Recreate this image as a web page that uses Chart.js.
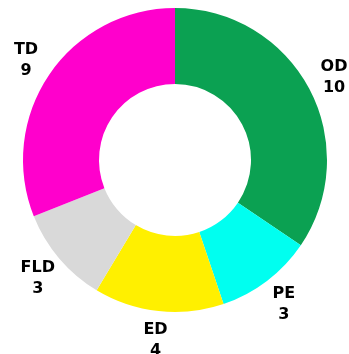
<!DOCTYPE html>
<html>
<head>
<meta charset="utf-8">
<style>
  html, body { margin: 0; padding: 0; background: #fff; }
  canvas { display: block; }
</style>
<script src="https://cdn.jsdelivr.net/npm/chart.js@4/dist/chart.umd.min.js"></script>
</head>
<body>
<canvas id="donut" width="349" height="354"></canvas>
<script>
// Slice names and counts, clockwise from 12 o'clock
const categories = ['OD', 'PE', 'ED', 'FLD', 'TD'];
const counts = [10, 3, 4, 3, 9];
const sliceColors = ['#0ba152', '#00fff0', '#fff000', '#d9d9d9', '#ff00cc'];

// Draws "NAME" over "count" outside each slice, at the slice's mid angle
const outsideLabels = {
    id: 'outsideLabels',
    afterDatasetsDraw(chart) {
        const ctx = chart.ctx;
        const meta = chart.getDatasetMeta(0);
        ctx.save();
        ctx.font = 'bold 16px "DejaVu Sans"';
        ctx.fillStyle = '#000';
        ctx.textAlign = 'center';
        ctx.textBaseline = 'middle';
        meta.data.forEach((arc, i) => {
            const mid = (arc.startAngle + arc.endAngle) / 2;
            const r = arc.outerRadius + 28;
            const x = arc.x + Math.cos(mid) * r;
            const y = arc.y + Math.sin(mid) * r;
            ctx.fillText(categories[i], x, y - 9);
            ctx.fillText(String(counts[i]), x, y + 12);
        });
        ctx.restore();
    }
};

new Chart(document.getElementById('donut'), {
    type: 'doughnut',
    data: {
        labels: categories,
        datasets: [{
            data: counts,
            backgroundColor: sliceColors,
            borderWidth: 0
        }]
    },
    options: {
        responsive: false,
        animation: false,
        cutout: '50%',
        layout: { padding: { top: 8, bottom: 42, left: 23, right: 22 } },
        plugins: {
            legend: { display: false },
            tooltip: { enabled: false }
        }
    },
    plugins: [outsideLabels]
});
</script>
</body>
</html>
